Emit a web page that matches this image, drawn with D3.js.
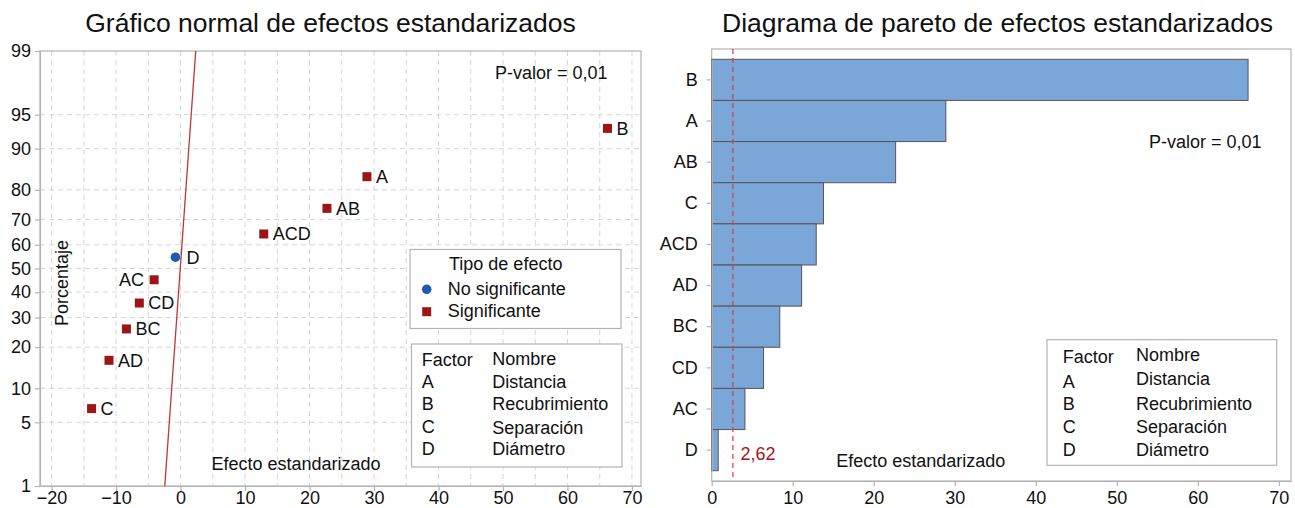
<!DOCTYPE html>
<html>
<head>
<meta charset="utf-8">
<script src="https://cdn.jsdelivr.net/npm/d3@7"></script>
<style>
  html, body { margin: 0; padding: 0; background: #fff; }
  svg { display: block; font-family: "Liberation Sans", Arial, Helvetica, sans-serif; }
</style>
</head>
<body>
<svg id="chart" width="1295" height="508"></svg>
<script>
// ---------- DATA ----------
const factors      = ["B", "A", "AB", "C", "ACD", "AD", "BC", "CD", "AC", "D"];
const effects      = [66.2, 28.9, 22.7, -13.8, 12.9, -11.1, -8.4, -6.4, -4.1, -0.8];
const percents     = [93.3, 83.7, 74.0, 6.7, 64.4, 16.3, 25.9, 35.6, 45.2, 54.8];
const significant  = [true, true, true, true, true, true, true, true, true, false];
const percentTicks = [1, 5, 10, 20, 30, 40, 50, 60, 70, 80, 90, 95, 99];
const normalXTicks = [-20, -10, 0, 10, 20, 30, 40, 50, 60, 70];
const normalXGrid  = [-20, -15, -10, -5, 0, 5, 10, 15, 20, 25, 30, 35, 40, 45, 50, 55, 60, 65, 70];
const paretoXTicks = [0, 10, 20, 30, 40, 50, 60, 70];
const fitLine      = [{p: 1, x: -2.45}, {p: 99, x: 2.35}];
const criticalValue = 2.62;
const legendTypes  = ["No significante", "Significante"];
const factorCodes  = ["A", "B", "C", "D"];
const factorNames  = ["Distancia", "Recubrimiento", "Separación", "Diámetro"];

// ---------- HELPERS ----------
function qnorm(p) {
  const a = [-3.969683028665376e+01, 2.209460984245205e+02, -2.759285104469687e+02, 1.383577518672690e+02, -3.066479806614716e+01, 2.506628277459239e+00];
  const b = [-5.447609879822406e+01, 1.615858368580409e+02, -1.556989798598866e+02, 6.680131188771972e+01, -1.328068155288572e+01];
  const c = [-7.784894002430293e-03, -3.223964580411365e-01, -2.400758277161838e+00, -2.549732467283718e+00, 4.374664141464968e+00, 2.938163982698783e+00];
  const d = [7.784695709041462e-03, 3.224671290700398e-01, 2.445134137142996e+00, 3.754408661907416e+00];
  const plow = 0.02425, phigh = 1 - plow;
  let q, r;
  if (p < plow) {
    q = Math.sqrt(-2 * Math.log(p));
    return (((((c[0]*q+c[1])*q+c[2])*q+c[3])*q+c[4])*q+c[5]) / ((((d[0]*q+d[1])*q+d[2])*q+d[3])*q+1);
  } else if (p <= phigh) {
    q = p - 0.5; r = q * q;
    return (((((a[0]*r+a[1])*r+a[2])*r+a[3])*r+a[4])*r+a[5])*q / (((((b[0]*r+b[1])*r+b[2])*r+b[3])*r+b[4])*r+1);
  } else {
    q = Math.sqrt(-2 * Math.log(1 - p));
    return -(((((c[0]*q+c[1])*q+c[2])*q+c[3])*q+c[4])*q+c[5]) / ((((d[0]*q+d[1])*q+d[2])*q+d[3])*q+1);
  }
}

const svg = d3.select("#chart");
const FONT = 18;
const RED_SQ = "#9b1616";
const BLUE = "#1c5cb0";
const FRAME = "#b3b3b3";

// ---------- LEFT: NORMAL PLOT ----------
const L = {left: 40, right: 641, top: 51, bottom: 486};
const xN = d3.scaleLinear().domain([-21.8, 71.4]).range([L.left, L.right]);
const zN = d3.scaleLinear().domain([qnorm(0.01), qnorm(0.99)]).range([L.bottom, L.top]);
const yN = p => zN(qnorm(p / 100));

const gL = svg.append("g");

gL.append("text").attr("x", 330.5).attr("y", 32).attr("text-anchor", "middle")
  .attr("font-size", 26.5).attr("fill", "#111").text("Gráfico normal de efectos estandarizados");

// grid
gL.append("g").selectAll("line").data(normalXGrid).join("line")
  .attr("x1", d => xN(d)).attr("x2", d => xN(d)).attr("y1", L.top).attr("y2", L.bottom)
  .attr("stroke", "#d6d6d6").attr("stroke-dasharray", "5,4").attr("stroke-width", 1);
gL.append("g").selectAll("line").data(percentTicks.filter(d => d !== 1 && d !== 99)).join("line")
  .attr("x1", L.left).attr("x2", L.right).attr("y1", d => yN(d)).attr("y2", d => yN(d))
  .attr("stroke", "#d6d6d6").attr("stroke-dasharray", "5,4").attr("stroke-width", 1);

// frame
gL.append("rect").attr("x", L.left).attr("y", L.top).attr("width", L.right - L.left).attr("height", L.bottom - L.top)
  .attr("fill", "none").attr("stroke", FRAME).attr("stroke-width", 1.2);

// axes
const axLB = gL.append("g").attr("transform", `translate(0,${L.bottom})`)
  .call(d3.axisBottom(xN).tickValues(normalXTicks).tickSize(5).tickPadding(0).tickSizeOuter(0));
const axLL = gL.append("g").attr("transform", `translate(${L.left},0)`)
  .call(d3.axisLeft(zN).tickValues(percentTicks.map(p => qnorm(p / 100))).tickSize(5).tickPadding(4).tickSizeOuter(0)
    .tickFormat((d, i) => percentTicks[i]));
[axLB, axLL].forEach(ax => {
  ax.select(".domain").attr("stroke", FRAME).attr("stroke-width", 1.2);
  ax.selectAll(".tick line").attr("stroke", FRAME).attr("stroke-width", 1.2);
  ax.selectAll(".tick text").attr("font-size", FONT).attr("font-family", "Liberation Sans, Arial, sans-serif").attr("fill", "#111");
});

// fit line
gL.append("line")
  .attr("x1", xN(fitLine[0].x)).attr("y1", yN(fitLine[0].p))
  .attr("x2", xN(fitLine[1].x)).attr("y2", yN(fitLine[1].p))
  .attr("stroke", "#c0353a").attr("stroke-width", 1.3);

// points
const pts = factors.map((f, i) => ({f, e: effects[i], p: percents[i], s: significant[i]}));
gL.append("g").selectAll("rect").data(pts.filter(d => d.s)).join("rect")
  .attr("x", d => xN(d.e) - 4.5).attr("y", d => yN(d.p) - 4.5).attr("width", 9).attr("height", 9)
  .attr("fill", RED_SQ);
gL.append("g").selectAll("circle").data(pts.filter(d => !d.s)).join("circle")
  .attr("cx", d => xN(d.e)).attr("cy", d => yN(d.p)).attr("r", 4.8).attr("fill", BLUE);
gL.append("g").selectAll("text").data(pts).join("text")
  .attr("x", d => d.f === "AC" ? xN(d.e) - 10 : xN(d.e) + (d.s ? 9 : 11))
  .attr("y", d => yN(d.p)).attr("dy", "0.36em")
  .attr("text-anchor", d => d.f === "AC" ? "end" : "start")
  .attr("font-size", FONT).attr("fill", "#111").text(d => d.f);

// labels
gL.append("text").attr("transform", "translate(68,283) rotate(-90)").attr("text-anchor", "middle")
  .attr("font-size", FONT).attr("fill", "#111").text("Porcentaje");
gL.append("text").attr("x", 296).attr("y", 470).attr("text-anchor", "middle")
  .attr("font-size", FONT).attr("fill", "#111").text("Efecto estandarizado");
gL.append("text").attr("x", 495).attr("y", 79)
  .attr("font-size", FONT).attr("fill", "#111").text("P-valor = 0,01");

// legend 1
const lg1 = gL.append("g");
lg1.append("rect").attr("x", 410).attr("y", 249.5).attr("width", 211).attr("height", 79)
  .attr("fill", "#fff").attr("stroke", FRAME).attr("stroke-width", 1.2);
lg1.append("text").attr("x", 449).attr("y", 269.5).attr("font-size", FONT).attr("fill", "#111").text("Tipo de efecto");
lg1.append("circle").attr("cx", 426.7).attr("cy", 289.3).attr("r", 4.8).attr("fill", BLUE);
lg1.append("rect").attr("x", 422.2).attr("y", 307.2).attr("width", 9).attr("height", 9).attr("fill", RED_SQ);
lg1.selectAll("text.item").data(legendTypes).join("text").attr("class", "item")
  .attr("x", 447.7).attr("y", (d, i) => 295 + i * 22).attr("font-size", FONT).attr("fill", "#111").text(d => d);

// legend 2 (left)
function factorLegend(g, x0, y0, w, h, xc, xn, yHead, yc, yn) {
  g.append("rect").attr("x", x0).attr("y", y0).attr("width", w).attr("height", h)
    .attr("fill", "#fff").attr("stroke", FRAME).attr("stroke-width", 1.2);
  g.append("text").attr("x", xc).attr("y", yHead[0]).attr("font-size", FONT).attr("fill", "#111").text("Factor");
  g.append("text").attr("x", xn).attr("y", yHead[1]).attr("font-size", FONT).attr("fill", "#111").text("Nombre");
  g.selectAll("text.code").data(factorCodes).join("text").attr("class", "code")
    .attr("x", xc).attr("y", (d, i) => yc[i]).attr("font-size", FONT).attr("fill", "#111").text(d => d);
  g.selectAll("text.name").data(factorNames).join("text").attr("class", "name")
    .attr("x", xn).attr("y", (d, i) => yn[i]).attr("font-size", FONT).attr("fill", "#111").text(d => d);
}
factorLegend(gL.append("g"), 411.5, 344, 210.5, 123, 421.7, 492.3, [366, 365],
  [388, 410, 433, 455], [388, 410, 434, 455]);

// ---------- RIGHT: PARETO ----------
const R = {left: 711.7, right: 1291, top: 49, bottom: 481};
const xP = d3.scaleLinear().domain([0, 71.5]).range([R.left, R.right]);
const yP = d3.scaleBand().domain(factors).range([59.3, 470.7]).padding(0);

const gR = svg.append("g");
gR.append("text").attr("x", 997.5).attr("y", 32).attr("text-anchor", "middle")
  .attr("font-size", 26.5).attr("fill", "#111").text("Diagrama de pareto de efectos estandarizados");

gR.append("rect").attr("x", R.left).attr("y", R.top).attr("width", R.right - R.left).attr("height", R.bottom - R.top)
  .attr("fill", "none").attr("stroke", FRAME).attr("stroke-width", 1.2);

gR.append("g").selectAll("rect").data(factors.map((f, i) => ({f, v: Math.abs(effects[i])}))).join("rect")
  .attr("x", xP(0)).attr("y", d => yP(d.f)).attr("width", d => xP(d.v) - xP(0)).attr("height", yP.bandwidth())
  .attr("fill", "#7ba6d8").attr("stroke", "#555").attr("stroke-width", 1);

const axRB = gR.append("g").attr("transform", `translate(0,${R.bottom})`)
  .call(d3.axisBottom(xP).tickValues(paretoXTicks).tickSize(5).tickPadding(5).tickSizeOuter(0));
const axRL = gR.append("g").attr("transform", `translate(${R.left},0)`)
  .call(d3.axisLeft(yP).tickSize(5).tickPadding(9).tickSizeOuter(0));
[axRB, axRL].forEach(ax => {
  ax.select(".domain").attr("stroke", FRAME).attr("stroke-width", 1.2);
  ax.selectAll(".tick line").attr("stroke", FRAME).attr("stroke-width", 1.2);
  ax.selectAll(".tick text").attr("font-size", FONT).attr("font-family", "Liberation Sans, Arial, sans-serif").attr("fill", "#111");
});

gR.append("line").attr("x1", xP(criticalValue)).attr("x2", xP(criticalValue)).attr("y1", R.top).attr("y2", R.bottom)
  .attr("stroke", "#e0393e").attr("stroke-width", 1.2).attr("stroke-dasharray", "5,4");
gR.append("text").attr("x", xP(criticalValue) + 7.5).attr("y", 460).attr("font-size", FONT)
  .attr("fill", "#a3161a").text(String(criticalValue).replace(".", ","));

gR.append("text").attr("x", 920.7).attr("y", 466.5).attr("text-anchor", "middle")
  .attr("font-size", FONT).attr("fill", "#111").text("Efecto estandarizado");
gR.append("text").attr("x", 1149).attr("y", 148)
  .attr("font-size", FONT).attr("fill", "#111").text("P-valor = 0,01");

factorLegend(gR.append("g"), 1047, 339.7, 229.7, 125.6, 1062.7, 1136, [363, 360.5],
  [388, 410, 433, 456], [385, 410, 433, 456]);
</script>
</body>
</html>
